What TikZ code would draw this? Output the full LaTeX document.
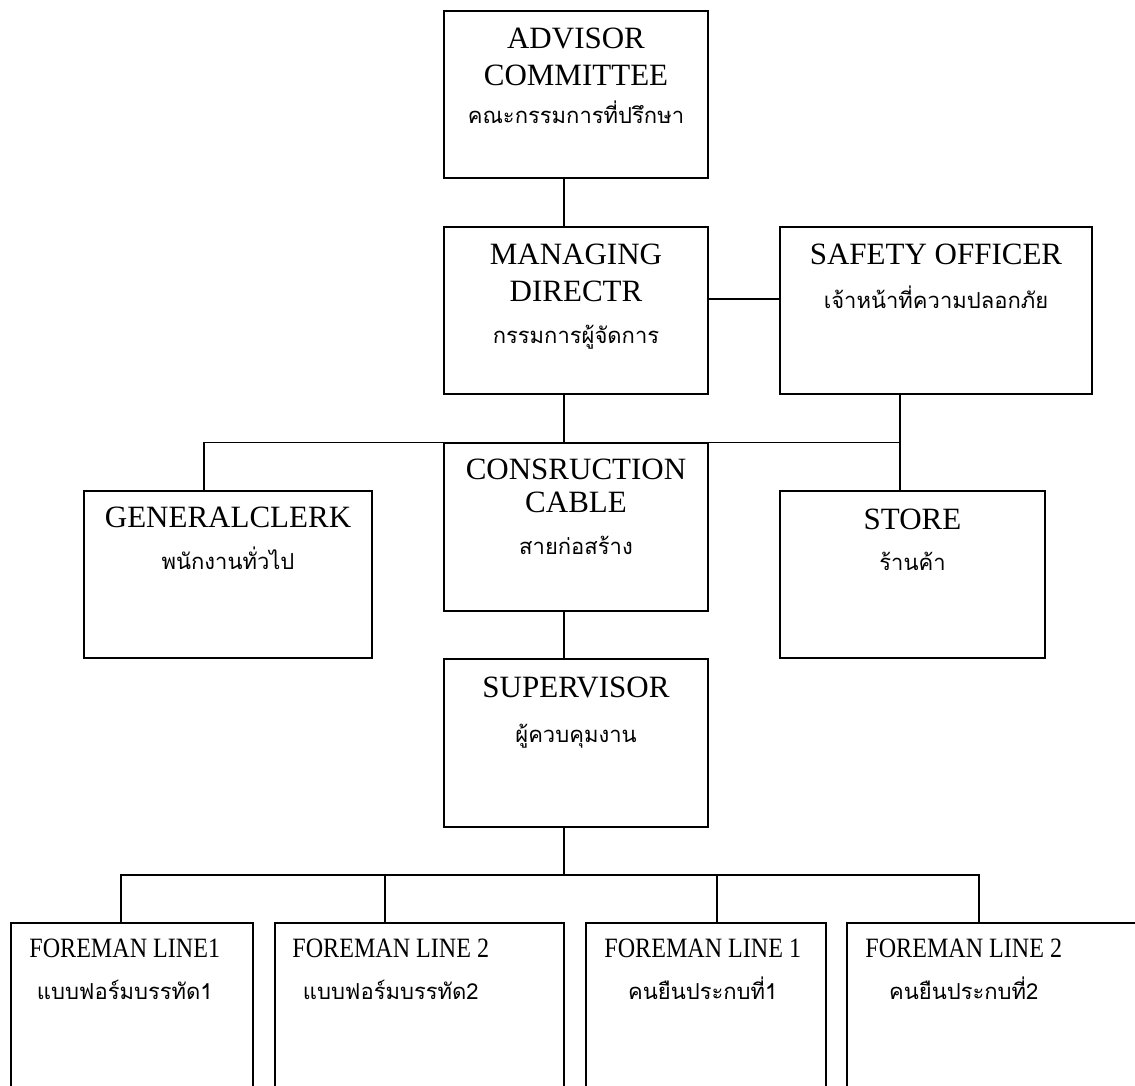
\documentclass[tikz,border=0pt]{standalone}
\usepackage{fontspec}
\setmainfont{Liberation Serif}
\newfontfamily\thaifont[Script=Thai]{Loma}
\newfontfamily\narrowfont[FakeStretch=0.86]{Liberation Serif}
\newcommand\thaitext[1]{{\thaifont\fontsize{22}{30}\selectfont #1}}
\usetikzlibrary{positioning}

\begin{document}
\begin{tikzpicture}[x=1pt,y=-1pt,
box/.style={draw,line width=1.5pt,inner sep=0pt},
lbl/.style={inner sep=0pt,align=center,font=\fontsize{31}{37}\selectfont},
foot/.style={inner sep=0pt,align=center,anchor=north west,font=\narrowfont\fontsize{28}{37}\selectfont},
wire/.style={line width=1.5pt,line cap=rect},
]
\clip (0,0) rectangle (1135,1086);
\node[box,minimum width=264,minimum height=167] (adv)   at (576,94.5)  {};
\node[box,minimum width=264,minimum height=167] (mgr)   at (576,310.5) {};
\node[box,minimum width=312,minimum height=167] (safe)  at (936,310.5) {};
\node[box,minimum width=288,minimum height=167] (clerk) at (228,574.5) {};
\node[box,minimum width=264,minimum height=168] (cons)  at (576,527)   {};
\node[box,minimum width=265,minimum height=167] (store) at (912.5,574.5) {};
\node[box,minimum width=264,minimum height=168] (sup)   at (576,743)   {};
\node[box,minimum width=242,minimum height=177] (fm1)   at (132,1011.5)   {};
\node[box,minimum width=289,minimum height=177] (fm2)   at (419.5,1011.5) {};
\node[box,minimum width=240,minimum height=177] (fm3)   at (706,1011.5)   {};
\node[box,minimum width=303,minimum height=177] (fm4)   at (998.5,1011.5) {};

\node[lbl,below=18pt of adv.north]   (advtxt)   {ADVISOR\\COMMITTEE\\[1pt]\thaitext{คณะกรรมการที่ปรึกษา}};
\node[lbl,below=18pt of mgr.north]   (mgrtxt)   {MANAGING\\DIRECTR\\[5pt]\thaitext{กรรมการผู้จัดการ}};
\node[lbl,below=18pt of safe.north]  (safetxt)  {SAFETY OFFICER\\[7pt]\thaitext{เจ้าหน้าที่ความปลอกภัย}};
\node[lbl,below=17pt of clerk.north] (clerktxt) {GENERALCLERK\\[5pt]\thaitext{พนักงานทั่วไป}};
\node[lbl,below=17pt of cons.north]  (constxt)  {CONSRUCTION\\[-4pt]CABLE\\[5pt]\thaitext{สายก่อสร้าง}};
\node[lbl,below=19pt of store.north] (storetxt) {STORE\\[4pt]\thaitext{ร้านค้า}};
\node[lbl,below=19pt of sup.north]   (suptxt)   {SUPERVISOR\\[8pt]\thaitext{ผู้ควบคุมงาน}};

\node[foot] (fm1txt) at ([xshift=19pt,yshift=-17pt]fm1.north west) {FOREMAN LINE1\\[5pt]\thaitext{แบบฟอร์มบรรทัด1}};
\node[foot] (fm2txt) at ([xshift=18pt,yshift=-17pt]fm2.north west) {FOREMAN LINE 2\\[5pt]\thaitext{แบบฟอร์มบรรทัด2}};
\node[foot] (fm3txt) at ([xshift=19pt,yshift=-17pt]fm3.north west) {FOREMAN LINE 1\\[5pt]\thaitext{คนยืนประกบที่1}};
\node[foot] (fm4txt) at ([xshift=19pt,yshift=-17pt]fm4.north west) {FOREMAN LINE 2\\[5pt]\thaitext{คนยืนประกบที่2}};

\coordinate (axis) at (564,0);
\coordinate (gx) at (204,0);
\coordinate (sx) at (900,0);
\coordinate (d1) at (121,875);
\coordinate (d2) at (385,875);
\coordinate (d3) at (717,875);
\coordinate (d4) at (979,875);

\draw[wire] (adv.south -| axis) -- (mgr.north -| axis);
\draw[wire] ([yshift=11.5pt]mgr.east) -- ([yshift=11.5pt]safe.west);
\draw[wire] (mgr.south -| axis) -- (cons.north -| axis);
\draw[wire] (clerk.north -| gx) -- (gx |- cons.north) -- (sx |- cons.north);
\draw[wire] (safe.south -| sx) -- (store.north -| sx);
\draw[wire] (cons.south -| axis) -- (sup.north -| axis);
\draw[wire] (sup.south -| axis) -- (d2 -| axis);
\draw[wire] (d1) -- (d4);
\foreach \i in {1,...,4}
  \draw[wire] (d\i) -- (fm\i.north -| d\i);
\end{tikzpicture}
\end{document}
